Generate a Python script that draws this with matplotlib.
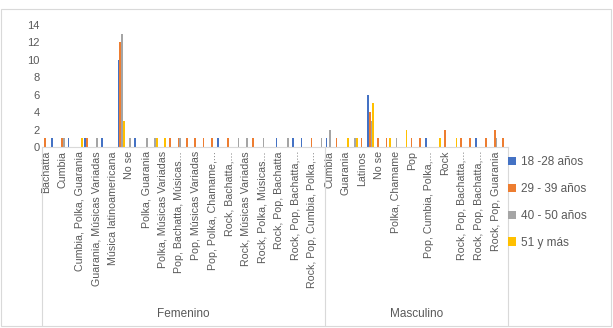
import matplotlib.pyplot as plt
from matplotlib.patches import Rectangle
import numpy as np

plt.rcParams['font.family'] = ['Liberation Sans', 'DejaVu Sans']

# categorias: Excel muestra solo una de cada dos etiquetas
etiquetas_fem = ["Bachatta", "Cumbia", "Cumbia, Polka, Guarania", "Guarania, Músicas Variadas",
                 "Música latinoamericana", "No se", "Polka, Guarania", "Polka, Músicas Variadas",
                 "Pop, Bachatta, Músicas...", "Pop, Músicas Variadas", "Pop, Polka, Chamame,...",
                 "Rock, Bachatta,...", "Rock, Músicas Variadas", "Rock, Polka, Músicas...",
                 "Rock, Pop, Bachatta", "Rock, Pop, Bachatta,...", "Rock, Pop, Cumbia, Polka,..."]
etiquetas_masc = ["Cumbia", "Guarania", "Latinos", "No se", "Polka, Chamame", "Pop",
                  "Pop, Cumbia, Polka,...", "Rock", "Rock, Pop, Bachatta,...",
                  "Rock, Pop, Bachatta,...", "Rock, Pop, Guarania"]
n_fem = 34
n_masc = 22
grupos = ["Femenino", "Masculino"]

series = ["18 -28 años", "29 - 39 años", "40 - 50 años", "51 y más"]
edad_18_28 = [0, 1, 0, 1, 0, 1, 0, 1, 0, 10, 0, 1, 0, 0, 0, 0, 0, 0, 0, 0, 0, 1, 0, 0, 0, 0, 0, 0,
              1, 0, 1, 1, 0, 0,
              1, 0, 0, 0, 0, 6, 0, 0, 0, 0, 0, 0, 1, 0, 0, 0, 0, 0, 1, 0, 0, 0]
edad_29_39 = [1, 0, 1, 0, 0, 1, 0, 0, 0, 12, 0, 0, 0, 0, 0, 1, 1, 1, 1, 1, 1, 0, 1, 0, 0, 1, 0, 0,
              0, 0, 0, 0, 1, 0,
              0, 1, 0, 0, 1, 4, 1, 1, 0, 0, 1, 1, 0, 0, 2, 0, 1, 1, 0, 1, 2, 1]
edad_40_50 = [0, 0, 1, 0, 0, 0, 1, 0, 0, 13, 1, 0, 1, 1, 0, 0, 1, 0, 0, 0, 0, 0, 0, 1, 1, 0, 1, 0,
              0, 1, 0, 0, 0, 1,
              2, 0, 0, 1, 0, 3, 0, 0, 1, 0, 0, 0, 0, 0, 0, 0, 0, 0, 0, 0, 1, 0]
edad_51 = [0, 0, 0, 0, 1, 0, 0, 0, 0, 3, 0, 0, 0, 1, 1, 0, 0, 0, 0, 0, 0, 0, 0, 0, 0, 0, 0, 0,
           0, 0, 0, 0, 0, 0,
           0, 0, 1, 1, 0, 5, 0, 1, 0, 2, 0, 0, 0, 1, 0, 1, 0, 0, 0, 0, 0, 0]
colores = ["#4472C4", "#ED7D31", "#A5A5A5", "#FFC000"]

gris = "#595959"
fig = plt.figure(figsize=(6.13, 3.28), dpi=100)
fig.patches.append(Rectangle((0.002, 0.006), 0.995, 0.966, transform=fig.transFigure,
                             fill=False, edgecolor="#d9d9d9", linewidth=0.8))
ax = fig.add_axes([0.0685, 0.552, 0.7602, 0.372])

x = np.arange(n_fem + n_masc)
ancho = 0.208
datos = [edad_18_28, edad_29_39, edad_40_50, edad_51]
for i, (vals, lab, col) in enumerate(zip(datos, series, colores)):
    ax.bar(x + (i - 1.5) * ancho, vals, ancho, color=col, label=lab)

ax.set_xlim(-0.5, n_fem + n_masc - 0.5)
ax.set_ylim(0, 14)
ax.set_yticks(range(0, 15, 2))
ax.tick_params(axis='y', length=0, labelsize=8, labelcolor=gris, pad=1.5)
ax.set_xticks(range(0, n_fem + n_masc, 2))
ax.set_xticklabels(etiquetas_fem + etiquetas_masc, rotation=90, fontsize=7.7, color=gris)
ax.tick_params(axis='x', length=0, pad=3)
for s in ['top', 'right', 'left']:
    ax.spines[s].set_visible(False)
ax.spines['bottom'].set_color("#d9d9d9")

# separadores y etiquetas del segundo nivel
trans = ax.get_xaxis_transform()
bordes = [-0.5, n_fem - 0.5, n_fem + n_masc - 0.5]
for b in bordes:
    ax.plot([b, b], [0, -1.46], color="#d9d9d9", lw=0.8, transform=trans, clip_on=False)
centros = [(bordes[0] + bordes[1]) / 2, (bordes[1] + bordes[2]) / 2]
for c, g in zip(centros, grupos):
    ax.text(c, -1.37, g, transform=trans, ha='center', va='center', fontsize=8.5, color=gris)

fig.legend(loc='upper left', bbox_to_anchor=(0.811, 0.556), frameon=False, fontsize=8.5,
           handlelength=0.7, handleheight=0.7, handletextpad=0.4, labelspacing=1.25,
           labelcolor=gris)

fig.savefig("out.png", dpi=100)
